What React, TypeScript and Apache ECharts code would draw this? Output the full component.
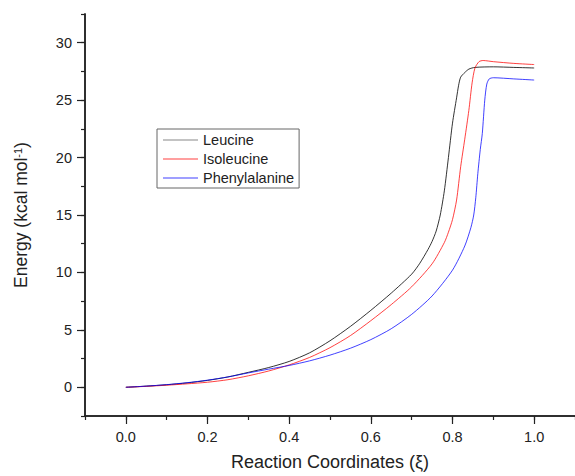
import React, { useEffect, useRef } from "react";
import * as echarts from "echarts";

const seriesNames = ["Leucine", "Isoleucine", "Phenylalanine"];
const seriesColors = ["#000000", "#ff0000", "#0000ff"];

const leucineX = [0, 0.05, 0.1, 0.15, 0.2, 0.25, 0.3, 0.35, 0.4, 0.45, 0.5, 0.55, 0.6, 0.65, 0.7, 0.72, 0.74, 0.75, 0.76, 0.77, 0.78, 0.79, 0.8, 0.81, 0.815, 0.82, 0.83, 0.84, 0.855, 0.9, 0.95, 1.0];
const leucineY = [0, 0.1, 0.22, 0.38, 0.6, 0.9, 1.3, 1.72, 2.25, 3.0, 4.05, 5.3, 6.7, 8.2, 9.85, 10.8, 12.0, 12.7, 13.6, 15.0, 17.1, 20.0, 23.0, 25.2, 26.3, 27.0, 27.4, 27.7, 27.85, 27.9, 27.85, 27.8];

const isoleucineX = [0, 0.05, 0.1, 0.15, 0.2, 0.25, 0.3, 0.35, 0.4, 0.45, 0.5, 0.55, 0.6, 0.65, 0.7, 0.75, 0.78, 0.79, 0.8, 0.81, 0.82, 0.83, 0.84, 0.848, 0.855, 0.865, 0.875, 0.9, 0.95, 1.0];
const isoleucineY = [0, 0.08, 0.18, 0.3, 0.44, 0.66, 1.0, 1.42, 1.95, 2.6, 3.45, 4.5, 5.8, 7.2, 8.75, 10.75, 12.6, 13.5, 14.6, 16.3, 19.2, 21.6, 24.1, 26.5, 27.8, 28.35, 28.45, 28.35, 28.2, 28.1];

const phenylalanineX = [0, 0.05, 0.1, 0.15, 0.2, 0.25, 0.3, 0.35, 0.4, 0.45, 0.5, 0.55, 0.6, 0.65, 0.7, 0.75, 0.8, 0.83, 0.845, 0.852, 0.857, 0.862, 0.868, 0.873, 0.879, 0.884, 0.89, 0.9, 0.95, 1.0];
const phenylalanineY = [0, 0.1, 0.23, 0.4, 0.62, 0.9, 1.25, 1.58, 1.9, 2.3, 2.8, 3.4, 4.15, 5.1, 6.35, 7.95, 10.2, 12.3, 13.9, 15.0, 16.5, 18.6, 20.7, 22.1, 25.0, 26.4, 26.85, 26.95, 26.85, 26.75];

const xMajorTicks = [0, 0.2, 0.4, 0.6, 0.8, 1.0];
const yMajorTicks = [0, 5, 10, 15, 20, 25, 30];

const FONT = "Liberation Sans";

function zip(xs: number[], ys: number[]) {
  return xs.map((x, i) => [x, ys[i]]);
}

export default function App() {
  const ref = useRef<HTMLDivElement>(null);
  useEffect(() => {
    document.body.style.margin = "0";
    if (!ref.current) return;
    const chart = echarts.init(ref.current, undefined, { renderer: "svg" });
    const axisLine = { show: true, onZero: false, lineStyle: { color: "#222", width: 1.5 } };
    const datasets = [
      zip(leucineX, leucineY),
      zip(isoleucineX, isoleucineY),
      zip(phenylalanineX, phenylalanineY),
    ];
    chart.setOption({
      animation: false,
      textStyle: { fontFamily: FONT },
      grid: { left: 85, right: -6, top: 14, bottom: 58, containLabel: false },
      legend: {
        orient: "vertical",
        left: 157,
        top: 129,
        padding: [3, 5, 2, 6],
        itemGap: 3,
        itemWidth: 35,
        itemHeight: 1.2,
        icon: "rect",
        borderColor: "#666",
        borderWidth: 1,
        textStyle: { fontFamily: FONT, fontSize: 14.5, color: "#222", lineHeight: 16 },
        data: seriesNames.map((n, i) => ({ name: n, itemStyle: { color: i === 0 ? "#888" : seriesColors[i], opacity: i === 0 ? 1 : 0.75 } })),
      },
      xAxis: [
        {
          type: "value",
          position: "bottom",
          min: -0.1,
          max: 1.1,
          interval: 0.1,
          axisLine,
          axisTick: { show: true, length: 4, lineStyle: { color: "#222", width: 1.2 } },
          axisLabel: { show: false },
          splitLine: { show: false },
        },
        {
          type: "value",
          position: "bottom",
          min: -0.1,
          max: 1.1,
          interval: 0.1,
          axisLine,
          axisTick: { show: true, length: 8, customValues: xMajorTicks, lineStyle: { color: "#222", width: 1.2 } },
          axisLabel: {
            show: true,
            customValues: xMajorTicks,
            formatter: (v: number) => v.toFixed(1),
            fontSize: 14.5,
            color: "#222",
            margin: 13,
            fontFamily: FONT,
          },
          splitLine: { show: false },
          name: "Reaction Coordinates (ξ)",
          nameLocation: "middle",
          nameGap: 37,
          nameTextStyle: { fontSize: 18, color: "#222", fontFamily: FONT, verticalAlign: "top" },
        },
      ],
      yAxis: [
        {
          type: "value",
          position: "left",
          min: -2.5,
          max: 32.5,
          interval: 2.5,
          axisLine,
          axisTick: { show: true, length: 4, lineStyle: { color: "#222", width: 1.2 } },
          axisLabel: { show: false },
          splitLine: { show: false },
        },
        {
          type: "value",
          position: "left",
          min: -2.5,
          max: 32.5,
          interval: 2.5,
          axisLine,
          axisTick: { show: true, length: 8, customValues: yMajorTicks, lineStyle: { color: "#222", width: 1.2 } },
          axisLabel: {
            show: true,
            customValues: yMajorTicks,
            fontSize: 14.5,
            color: "#222",
            margin: 13,
            fontFamily: FONT,
          },
          splitLine: { show: false },
          name: "Energy (kcal mol{sup|-1})",
          nameLocation: "middle",
          nameGap: 55,
          nameTextStyle: {
            fontSize: 17.5,
            color: "#222",
            fontFamily: FONT,
            rich: { sup: { fontSize: 11, verticalAlign: "top", fontFamily: FONT, color: "#222" } },
          },
        },
      ],
      series: seriesNames.map((name, i) => ({
        name,
        type: "line",
        xAxisIndex: 0,
        yAxisIndex: 0,
        data: datasets[i],
        symbol: "none",
        smooth: 0.25,
        lineStyle: { color: seriesColors[i], width: 1, opacity: i === 0 ? 0.8 : 0.75 },
        itemStyle: { color: seriesColors[i] },
      })),
    });
    return () => chart.dispose();
  }, []);
  return <div ref={ref} style={{ position: "absolute", left: 0, top: 0, width: 575, height: 476 }} />;
}
